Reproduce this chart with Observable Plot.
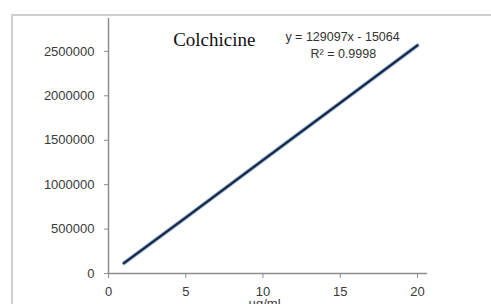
<!DOCTYPE html>
<html>
<head>
<meta charset="utf-8">
<script src="https://cdn.jsdelivr.net/npm/d3@7"></script>
<script src="https://cdn.jsdelivr.net/npm/@observablehq/plot@0.6"></script>
<style>
  html, body { margin: 0; padding: 0; background: #fff; }
  #wrap { position: relative; width: 491px; height: 304px; overflow: hidden; }
  #frame { position: absolute; left: 11px; top: 14px; width: 490px; height: 320px;
           border-top: 2px solid #cfcfcf; border-left: 2px solid #cfcfcf; box-sizing: border-box; }
  #chart { position: absolute; left: 0; top: 0; }
</style>
</head>
<body>
<div id="wrap"><div id="frame"></div><div id="chart"></div></div>
<script>
// Data (concentration in µg/ml vs. peak area)
const concentration = [1, 5, 10, 15, 20];
const area = [118000, 630000, 1276000, 1921000, 2567000];
const yTicks = [0, 500000, 1000000, 1500000, 2000000, 2500000];
const xTicks = [0, 5, 10, 15, 20];
const chartTitle = "Colchicine";
const equationText = "y = 129097x - 15064";
const r2Text = "R² = 0.9998";
const xLabel = "µg/ml";

const rows = concentration.map((c, i) => ({x: c, y: area[i]}));

const plot = Plot.plot({
  width: 491,
  height: 304,
  marginLeft: 108,
  marginRight: 64,
  marginTop: 18,
  marginBottom: 31,
  style: {background: "transparent", fontFamily: "Liberation Sans, Arial, sans-serif"},
  x: {domain: [0, 20.65]},
  y: {domain: [0, 2870000]},
  marks: [
    Plot.ruleX([0], {stroke: "#8c8c8c", strokeWidth: 1.5}),
    Plot.ruleY([0], {stroke: "#8c8c8c", strokeWidth: 1.5}),
    Plot.axisY({ticks: yTicks, tickSize: 4, tickPadding: 10, tickFormat: d => String(d),
                fontSize: 13, color: "#3a3a3a", stroke: "#8c8c8c", label: null}),
    Plot.axisX({ticks: xTicks, tickSize: 5, tickPadding: 8, tickFormat: d => String(d),
                fontSize: 13, color: "#3a3a3a", stroke: "#8c8c8c", label: null}),
    Plot.line(rows, {x: "x", y: "y", stroke: "#8fb3dc", strokeWidth: 4}),
    Plot.line(rows, {x: "x", y: "y", stroke: "#1b2740", strokeWidth: 2.2}),
    Plot.text([chartTitle], {x: 6.85, y: 2625000, text: d => d, fontSize: 19,
               fontFamily: "Liberation Serif, Times New Roman, serif", fill: "#111"}),
    Plot.text([equationText], {x: 15.15, y: 2660000, text: d => d, fontSize: 12.5, fill: "#333"}),
    Plot.text([r2Text], {x: 15.2, y: 2475000, text: d => d, fontSize: 12.5, fill: "#333"}),
    Plot.text([xLabel], {x: 10.1, frameAnchor: "bottom", dy: 25, lineAnchor: "top",
               text: d => d, fontSize: 13, fill: "#3a3a3a"})
  ]
});
document.getElementById("chart").appendChild(plot);
</script>
</body>
</html>
